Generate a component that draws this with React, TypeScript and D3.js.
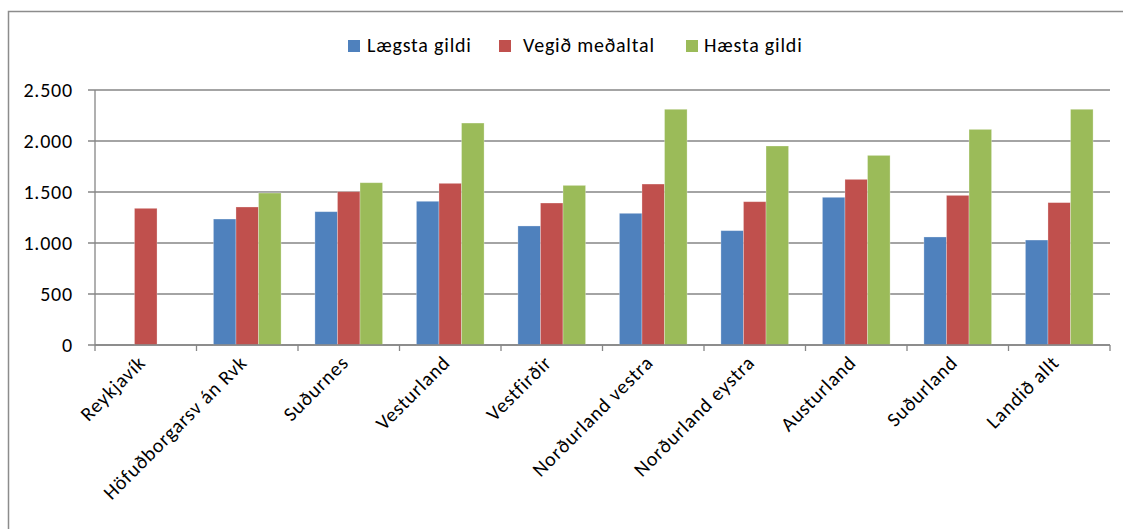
import React from "react";
import * as d3 from "d3";

const categories = [
  "Reykjavík",
  "Höfuðborgarsv án Rvk",
  "Suðurnes",
  "Vesturland",
  "Vestfirðir",
  "Norðurland vestra",
  "Norðurland eystra",
  "Austurland",
  "Suðurland",
  "Landið allt",
];
const seriesNames = ["Lægsta gildi", "Vegið meðaltal", "Hæsta gildi"];
const lowest = [null, 1235, 1307, 1409, 1167, 1291, 1121, 1448, 1059, 1029];
const weightedAvg = [1340, 1353, 1503, 1585, 1392, 1578, 1405, 1624, 1467, 1396];
const highest = [null, 1490, 1591, 2176, 1565, 2311, 1951, 1859, 2114, 2311];
const yTicks = [0, 500, 1000, 1500, 2000, 2500];
const colors = ["#4F81BD", "#C0504D", "#9BBB59"];

const W = 1123;
const H = 529;
const FONT = "Carlito, Calibri, Lato, sans-serif";
const FS = 20;
const LS = 0.8;

export default function App() {
  const seriesValues = [lowest, weightedAvg, highest];
  const x0 = d3.scaleBand<string>().domain(categories).range([95, 1110]).padding(0);
  const step = x0.step();
  const groupW = (step * 3) / 4.5;
  const x1 = d3
    .scaleBand<string>()
    .domain(seriesNames)
    .range([(step - groupW) / 2, (step + groupW) / 2])
    .padding(0);
  const y = d3.scaleLinear().domain([0, 2500]).range([345, 90]);
  const fmt = (v: number) => d3.format(",")(v).replace(/,/g, ".");
  const grid = "#868686";
  const legendX = [348, 499, 686];
  const legendTextX = [367, 523, 704];

  return (
    <svg
      width={W}
      height={H}
      style={{ position: "absolute", left: 0, top: 0, background: "#fff" }}
      fontFamily={FONT}
      letterSpacing={LS}
    >
      <rect x={0} y={0} width={W} height={H} fill="#fff" />
      <rect x={8.5} y={11.5} width={1200} height={600} fill="none" stroke="#8c8c8c" strokeWidth={1.5} />
      {/* legend */}
      {seriesNames.map((s, i) => (
        <g key={s}>
          <rect x={legendX[i]} y={40} width={12} height={12} fill={colors[i]} />
          <text x={legendTextX[i]} y={52} fontSize={FS} fill="#000">
            {s}
          </text>
        </g>
      ))}
      {/* gridlines */}
      {yTicks.map((t) => (
        <g key={t}>
          <line x1={88} x2={1110} y1={y(t)} y2={y(t)} stroke={grid} strokeWidth={1.3} />
          <text x={73} y={y(t)} dy="0.36em" textAnchor="end" fontSize={FS} fill="#000">
            {fmt(t)}
          </text>
        </g>
      ))}
      {/* y axis */}
      <line x1={95} x2={95} y1={y(2500)} y2={y(0) + 6} stroke={grid} strokeWidth={1.3} />
      {/* x ticks */}
      {categories.map((c) => (
        <line
          key={"t" + c}
          x1={x0(c)! + step}
          x2={x0(c)! + step}
          y1={y(0)}
          y2={y(0) + 6}
          stroke={grid}
          strokeWidth={1.3}
        />
      ))}
      {/* bars */}
      {categories.map((c, ci) => (
        <g key={c} transform={`translate(${x0(c)},0)`}>
          {seriesNames.map((s, si) => {
            const v = seriesValues[si][ci];
            if (v == null) return null;
            return (
              <rect
                key={s}
                x={x1(s)}
                y={y(v)}
                width={x1.bandwidth()}
                height={y(0) - y(v)}
                fill={colors[si]}
                stroke="rgba(255,255,255,0.35)"
                strokeWidth={0.8}
              />
            );
          })}
        </g>
      ))}
      {/* x axis line */}
      <line x1={95} x2={1110} y1={y(0)} y2={y(0)} stroke={grid} strokeWidth={1.3} />
      {/* category labels */}
      {categories.map((c) => {
        const cx = x0(c)! + step / 2 + 1;
        const cy = 364;
        return (
          <text
            key={"l" + c}
            x={cx}
            y={cy}
            textAnchor="end"
            fontSize={FS}
            fill="#000"
            transform={`rotate(-45 ${cx} ${cy})`}
          >
            {c}
          </text>
        );
      })}
    </svg>
  );
}
